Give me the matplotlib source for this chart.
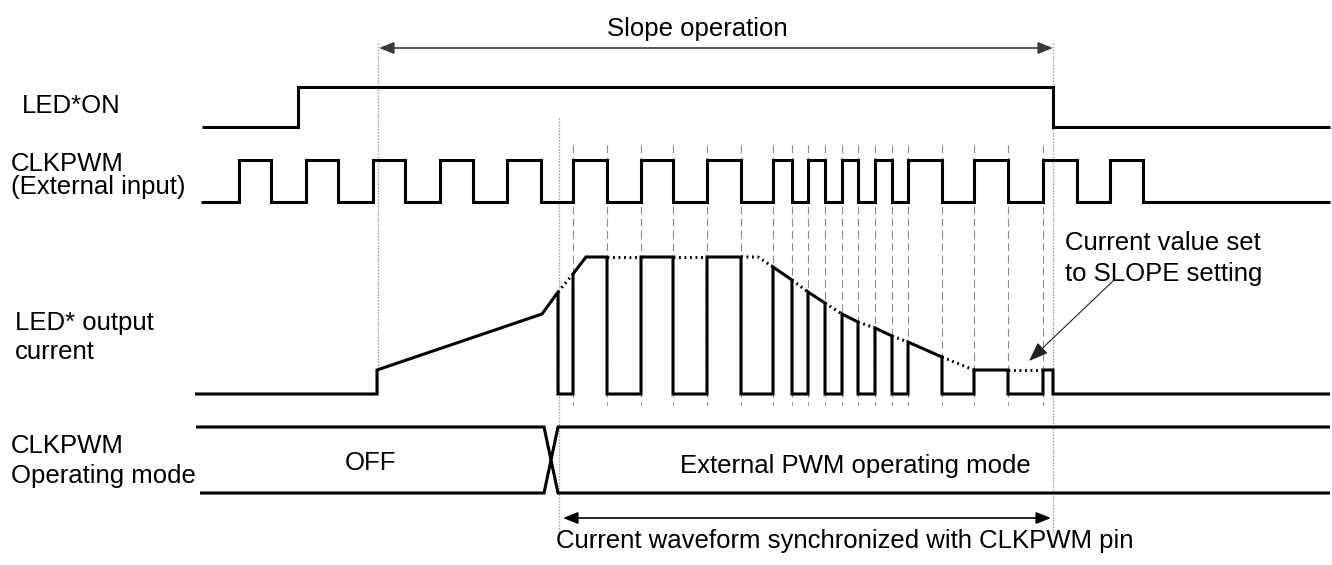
import matplotlib
matplotlib.use('Agg')
import matplotlib.pyplot as plt
from matplotlib.patches import FancyArrowPatch

plt.rcParams['font.family'] = ['Liberation Sans', 'DejaVu Sans']

# ---------------- data (time axis / levels in drawing units) ----------------
t_start, t_end = 201, 1330

# LED*ON signal
led_on_edges = [298, 1053]          # rise, fall
# CLKPWM external input edges
clk_rise = [239, 306, 373, 440, 507, 573, 641, 707, 773, 808, 842, 875, 908, 974, 1043, 1110]
clk_fall = [271, 338, 405, 473, 541, 607, 673, 741, 792, 825, 858, 892, 942, 1008, 1077, 1143]

# LED* output current: slope ramp before PWM mode
ramp_x = [195, 377, 377, 542, 558]
ramp_y = [394, 394, 370, 314, 292]
# PWM pulses of the current
pulse_on = [573, 641, 707, 773, 808, 842, 875, 908, 974, 1043]
pulse_off = [607, 673, 741, 792, 825, 858, 892, 942, 1008, 1053]
level_on = [274, 257, 257, 267, 292, 314, 328, 342, 370, 370]
level_off = [257, 257, 257, 280, 303, 322, 336, 357, 370, 370]
first_knee = (586, 257)
decay_knee = (758, 257)

mode_switch = 558
slope_start, slope_end = 378, 1053

# levels
LED_LO, LED_HI = 127, 87
CLK_LO, CLK_HI = 202, 160
CUR_LO = 394
BUS_TOP, BUS_BOT = 427, 493

FS = 18.5
LW = 2.2

fig = plt.figure(figsize=(13.32, 5.65), dpi=100)
ax = fig.add_axes([0, 0, 1, 1])
ax.set_xlim(0, 1332)
ax.set_ylim(565, 0)
ax.axis('off')

wave_kw = dict(color='black', lw=LW, solid_joinstyle='miter', solid_capstyle='butt')


def step_wave(x0, x1, rises, falls, lo, hi):
    events = sorted([(r, hi) for r in rises] + [(f, lo) for f in falls])
    xs, ys = [x0], [lo]
    cur = lo
    for x, new in events:
        xs += [x, x]
        ys += [cur, new]
        cur = new
    xs.append(x1)
    ys.append(cur)
    return xs, ys


# ---- vertical guide lines ----
sync_edges = sorted([e for e in clk_rise + clk_fall if mode_switch < e <= 1043])
for e in sync_edges:
    ax.plot([e, e], [145, 405], color='#8c8c8c', lw=0.8, ls=(0, (7, 4)), zorder=1)
dot_kw = dict(color='#a6a6a6', lw=1.0, ls=(0, (1.2, 1.0)), zorder=1)
ax.plot([slope_start, slope_start], [43, CUR_LO], **dot_kw)
ax.plot([mode_switch + 1, mode_switch + 1], [118, 533], **dot_kw)
ax.plot([slope_end, slope_end], [43, 533], **dot_kw)

# ---- LED*ON ----
xs, ys = step_wave(202, t_end, [led_on_edges[0]], [led_on_edges[1]], LED_LO, LED_HI)
ax.plot(xs, ys, **wave_kw)

# ---- CLKPWM ----
xs, ys = step_wave(t_start, t_end, clk_rise, clk_fall, CLK_LO, CLK_HI)
ax.plot(xs, ys, **wave_kw)

# ---- LED* output current ----
xs = list(ramp_x) + [ramp_x[-1], pulse_on[0]]
ys = list(ramp_y) + [CUR_LO, CUR_LO]
for i in range(len(pulse_on)):
    xs += [pulse_on[i], pulse_on[i]]
    ys += [CUR_LO, level_on[i]]
    if i == 0:
        xs.append(first_knee[0])
        ys.append(first_knee[1])
    xs += [pulse_off[i], pulse_off[i]]
    ys += [level_off[i], CUR_LO]
xs.append(t_end)
ys.append(CUR_LO)
ax.plot(xs, ys, **wave_kw)

env_kw = dict(color='black', lw=LW, ls=(0, (0.6, 1.2)), dash_capstyle='butt')
ax.plot([ramp_x[-1], pulse_on[0]], [ramp_y[-1], level_on[0]], **env_kw)
for i in range(len(pulse_on) - 1):
    gx = [pulse_off[i], pulse_on[i + 1]]
    gy = [level_off[i], level_on[i + 1]]
    if i == 2:
        gx.insert(1, decay_knee[0])
        gy.insert(1, decay_knee[1])
    ax.plot(gx, gy, **env_kw)

# ---- CLKPWM operating mode bus ----
ax.plot([196, 544, mode_switch, t_end], [BUS_TOP, BUS_TOP, BUS_BOT, BUS_BOT], **wave_kw)
ax.plot([200, 544, mode_switch, t_end], [BUS_BOT, BUS_BOT, BUS_TOP, BUS_TOP], **wave_kw)

# ---- arrows ----
def darrow(x0, x1, y, color):
    ax.add_patch(FancyArrowPatch((x0, y), (x1, y),
                                 arrowstyle='<|-|>,head_length=0.9,head_width=0.36',
                                 mutation_scale=10, color=color, lw=1.2,
                                 shrinkA=0, shrinkB=0))

darrow(slope_start + 1, slope_end, 48, '#3a3a3a')
darrow(mode_switch + 5, slope_end - 2, 518, 'black')

ax.add_patch(FancyArrowPatch((1113, 281), (1029, 361),
                             arrowstyle='-|>,head_length=1.2,head_width=0.45',
                             mutation_scale=10, color='#222222', lw=0.8,
                             shrinkA=0, shrinkB=0))

# ---- texts ----
tkw = dict(fontsize=FS, va='baseline', ha='left', color='black')
ax.text(607, 36, 'Slope operation', **tkw)
ax.text(22, 113, 'LED*ON', **tkw)
ax.text(11, 171, 'CLKPWM', **tkw)
ax.text(11, 194, '(External input)', **tkw)
ax.text(15, 330, 'LED* output', **tkw)
ax.text(15, 359, 'current', **tkw)
ax.text(11, 453, 'CLKPWM', **tkw)
ax.text(11, 483, 'Operating mode', **tkw)
ax.text(370, 470, 'OFF', fontsize=FS, va='baseline', ha='center')
ax.text(680, 473, 'External PWM operating mode', **tkw)
ax.text(1065, 250, 'Current value set', **tkw)
ax.text(1065, 281, 'to SLOPE setting', **tkw)
ax.text(556, 548, 'Current waveform synchronized with CLKPWM pin', **tkw)

fig.savefig('out.png', dpi=100)
